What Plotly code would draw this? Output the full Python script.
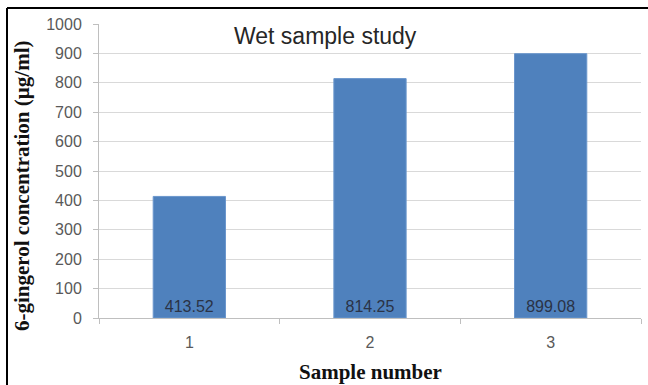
import plotly.graph_objects as go

samples = ["1", "2", "3"]
values = [413.52, 814.25, 899.08]
value_labels = ["413.52", "814.25", "899.08"]
y_ticks = [0, 100, 200, 300, 400, 500, 600, 700, 800, 900, 1000]

W, H = 648, 385
L, R, T, B = 99, 7, 24, 67

fig = go.Figure()
fig.add_trace(go.Bar(
    x=samples, y=values, width=0.4,
    marker=dict(color="#4F81BD", line=dict(color="#6A96CC", width=1)),
    text=value_labels, textposition="inside", insidetextanchor="start",
    textangle=0,
    textfont=dict(family="Liberation Sans, Arial, sans-serif", size=16, color="#2A3346"),
    cliponaxis=False,
))

fig.update_layout(
    width=W, height=H,
    margin=dict(l=L, r=R, t=T, b=B, pad=0),
    paper_bgcolor="white", plot_bgcolor="white",
    showlegend=False,
    bargap=0.6,
    xaxis=dict(
        type="category", tickson="boundaries",
        ticks="outside", ticklen=5, tickcolor="#BFBFBF",
        showline=True, linecolor="#BFBFBF", linewidth=1,
        showgrid=False,
        ticklabelstandoff=10,
        tickfont=dict(family="Liberation Sans, Arial, sans-serif", size=16, color="#595959"),
        range=[-0.5, 2.5],
    ),
    yaxis=dict(
        range=[0, 1000], tickvals=y_ticks,
        ticks="outside", ticklen=5, tickcolor="#BFBFBF",
        showline=True, linecolor="#BFBFBF", linewidth=1,
        showgrid=True, gridcolor="#D9D9D9", gridwidth=1,
        zeroline=False,
        ticklabelstandoff=8,
        tickfont=dict(family="Liberation Sans, Arial, sans-serif", size=16, color="#595959"),
    ),
)

# Title inside plot
fig.add_annotation(
    text="Wet sample study", xref="paper", yref="paper",
    x=(325 - L) / (W - L - R), y=1 - (36 - T) / (H - T - B),
    xanchor="center", yanchor="middle", showarrow=False,
    font=dict(family="Liberation Sans, Arial, sans-serif", size=23, color="#262626"),
)
# Y axis title
fig.add_annotation(
    text="<b>6-gingerol concentration (µg/ml)</b>", xref="paper", yref="paper",
    x=(22 - L) / (W - L - R), y=1 - (186 - T) / (H - T - B),
    xanchor="center", yanchor="middle", textangle=-90, showarrow=False,
    font=dict(family="Liberation Serif, Times New Roman, serif", size=21, color="#111111"),
)
# X axis title
fig.add_annotation(
    text="<b>Sample number</b>", xref="paper", yref="paper",
    x=(370 - L) / (W - L - R), y=1 - (372 - T) / (H - T - B),
    xanchor="center", yanchor="middle", showarrow=False,
    font=dict(family="Liberation Serif, Times New Roman, serif", size=21, color="#111111"),
)

# Outer frame (left and top edges visible)
fig.add_shape(type="line", xref="paper", yref="paper",
              x0=(7 - L) / (W - L - R), x1=(7 - L) / (W - L - R),
              y0=1 - (385 - T) / (H - T - B), y1=1 - (8 - T) / (H - T - B),
              line=dict(color="black", width=2))
fig.add_shape(type="line", xref="paper", yref="paper",
              x0=(7 - L) / (W - L - R), x1=(648 - L) / (W - L - R),
              y0=1 - (8 - T) / (H - T - B), y1=1 - (8 - T) / (H - T - B),
              line=dict(color="black", width=2))

fig.write_html("out.html")
